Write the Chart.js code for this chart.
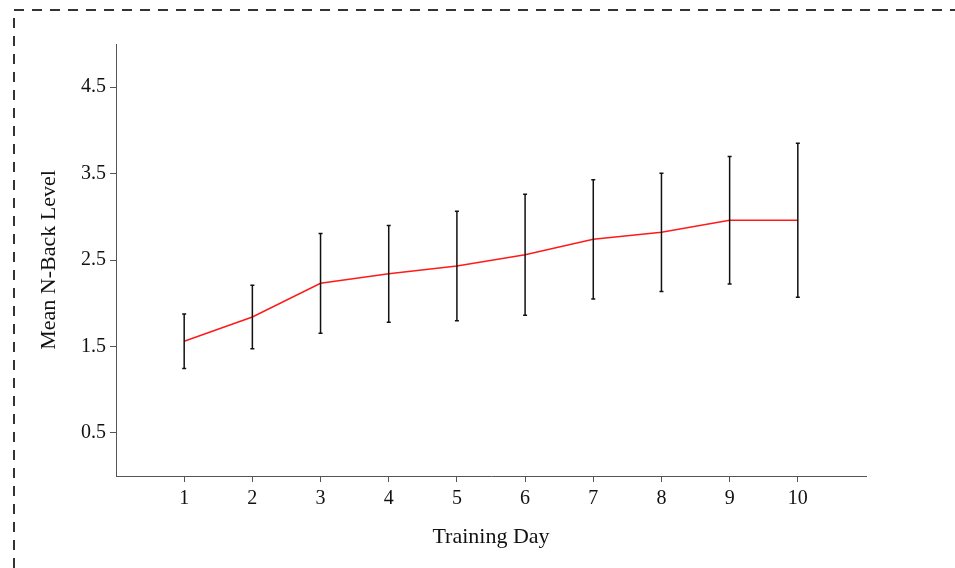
<!DOCTYPE html>
<html>
<head>
<meta charset="utf-8">
<script src="https://cdn.jsdelivr.net/npm/chart.js@4.4.1/dist/chart.umd.min.js"></script>
<style>
  html, body { margin: 0; padding: 0; background: #fff; }
  #wrap { width: 955px; height: 568px; position: relative; }
</style>
</head>
<body>
<div id="wrap"><canvas id="chart" width="955" height="568"></canvas></div>
<script>
var days = [1, 2, 3, 4, 5, 6, 7, 8, 9, 10];
var meanLevel = [1.56, 1.84, 2.23, 2.34, 2.43, 2.56, 2.74, 2.82, 2.96, 2.96];
var sdLevel = [0.316, 0.368, 0.578, 0.56, 0.634, 0.70, 0.69, 0.685, 0.737, 0.892];
var yTicks = [0.5, 1.5, 2.5, 3.5, 4.5];

var points = days.map(function(d, i) {
    return { x: d, y: meanLevel[i] };
});

// dashed frame round the figure
var framePlugin = {
    id: 'frame',
    beforeDraw: function(chart) {
        var ctx = chart.ctx;
        ctx.save();
        ctx.strokeStyle = '#333';
        ctx.lineWidth = 2;
        ctx.setLineDash([10, 8]);
        ctx.beginPath();
        ctx.moveTo(14, 568);
        ctx.lineTo(14, 10);
        ctx.lineTo(955, 10);
        ctx.stroke();
        ctx.restore();
    }
};

// vertical error bars (mean +/- sd)
var errorBars = {
    id: 'errorBars',
    afterDatasetsDraw: function(chart) {
        var ctx = chart.ctx;
        var xs = chart.scales.x;
        var ys = chart.scales.y;
        ctx.save();
        ctx.strokeStyle = '#111';
        ctx.lineWidth = 1.5;
        days.forEach(function(d, i) {
            var px = xs.getPixelForValue(d);
            var top = ys.getPixelForValue(meanLevel[i] + sdLevel[i]);
            var bot = ys.getPixelForValue(meanLevel[i] - sdLevel[i]);
            ctx.beginPath();
            ctx.moveTo(px, top);
            ctx.lineTo(px, bot);
            ctx.moveTo(px - 2, top);
            ctx.lineTo(px + 2, top);
            ctx.moveTo(px - 2, bot);
            ctx.lineTo(px + 2, bot);
            ctx.stroke();
        });
        ctx.restore();
    }
};

var serif = '"Liberation Serif", "Times New Roman", serif';
var font = { family: serif, size: 20 };

new Chart(document.getElementById('chart'), {
    type: 'line',
    data: {
        datasets: [{
            data: points,
            borderColor: '#ff1a1a',
            borderWidth: 1.5,
            pointRadius: 0,
            tension: 0,
            fill: false
        }]
    },
    options: {
        responsive: false,
        animation: false,
        layout: { padding: { left: 0, right: 89, top: 44, bottom: 12 } },
        plugins: {
            legend: { display: false },
            tooltip: { enabled: false }
        },
        scales: {
            x: {
                type: 'linear',
                min: 0,
                max: 11,
                afterBuildTicks: function(axis) {
                    axis.ticks = days.map(function(v) { return { value: v }; });
                },
                afterFit: function(axis) { axis.height = 80; },
                grid: { drawOnChartArea: false, drawTicks: true, tickLength: 6, color: '#555' },
                border: { color: '#555', width: 1 },
                ticks: { color: '#111', font: font, padding: 5, maxRotation: 0 },
                title: {
                    display: true,
                    text: 'Training Day',
                    color: '#111',
                    font: { family: serif, size: 22 },
                    padding: { top: 12, bottom: 6 }
                }
            },
            y: {
                type: 'linear',
                min: 0,
                max: 5,
                afterBuildTicks: function(axis) {
                    axis.ticks = yTicks.map(function(v) { return { value: v }; });
                },
                afterFit: function(axis) { axis.width = 116; },
                grid: { drawOnChartArea: false, drawTicks: true, tickLength: 6, color: '#555' },
                border: { color: '#555', width: 1 },
                ticks: {
                    color: '#111',
                    font: font,
                    padding: 4,
                    callback: function(v) { return v.toFixed(1); }
                },
                title: {
                    display: true,
                    text: 'Mean N-Back Level',
                    color: '#111',
                    font: { family: serif, size: 22 },
                    padding: { bottom: 0, top: 36 }
                }
            }
        }
    },
    plugins: [framePlugin, errorBars]
});
</script>
</body>
</html>
